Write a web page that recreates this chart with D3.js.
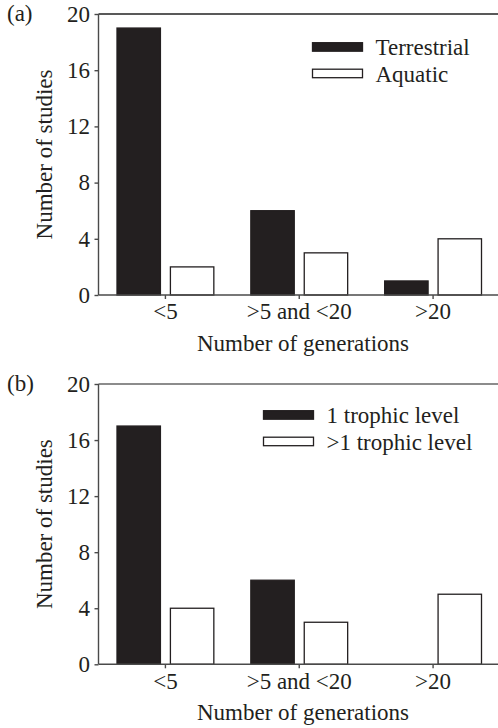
<!DOCTYPE html>
<html>
<head>
<meta charset="utf-8">
<script src="https://cdn.jsdelivr.net/npm/d3@7"></script>
<style>
  body { margin: 0; background: #fff; }
  svg text { font-family: "Palatino Linotype", Palatino, "Book Antiqua", "Liberation Serif", serif; fill: #231f20; }
</style>
</head>
<body>
<div id="chart"></div>
<script>
// data
var categories = ["<5", ">5 and <20", ">20"];
var terrestrial = [19, 6, 1];
var aquatic = [2, 3, 4];
var oneTrophic = [17, 6, 0];
var manyTrophic = [4, 3, 5];
var yTicks = [0, 4, 8, 12, 16, 20];

var svgWidth = 498;
var svgHeight = 728;
var ink = "#231f20";
var fontSize = 23;

var svg = d3.select("#chart")
  .append("svg")
  .attr("width", svgWidth)
  .attr("height", svgHeight);

// shared scales
var xScale = d3.scaleBand()
  .domain(categories)
  .range([98.5, 500]);

var seriesScale = d3.scaleBand()
  .domain([0, 1])
  .range([18.5, xScale.bandwidth() - 18.5])
  .paddingInner(0.187);

function drawPanel(opts) {
  var top = opts.top, bottom = opts.bottom;
  var yScale = d3.scaleLinear().domain([0, 20]).range([bottom, top]);
  var g = svg.append("g");

  // top frame line
  g.append("line")
    .attr("x1", xScale.range()[0]).attr("x2", svgWidth)
    .attr("y1", top).attr("y2", top)
    .attr("stroke", opts.topColor).attr("stroke-width", 1.4);

  // bars
  var series = [
    { values: opts.dark, fill: ink },
    { values: opts.light, fill: "#fff" }
  ];
  series.forEach(function(s, si) {
    g.selectAll(null)
      .data(categories.map(function(c, i) { return { cat: c, v: s.values[i] }; }).filter(function(d) { return d.v > 0; }))
      .enter()
      .append("rect")
      .attr("x", function(d) { return xScale(d.cat) + seriesScale(si); })
      .attr("width", seriesScale.bandwidth())
      .attr("y", function(d) { return yScale(d.v); })
      .attr("height", function(d) { return bottom - yScale(d.v); })
      .attr("fill", s.fill)
      .attr("stroke", ink)
      .attr("stroke-width", 1.3);
  });

  // axes
  var leftAxis = d3.axisLeft(yScale).tickValues(yTicks).tickSize(4).tickPadding(4.5);
  var bottomAxis = d3.axisBottom(xScale).tickSize(4).tickPadding(4);

  var ya = g.append("g")
    .attr("transform", "translate(" + xScale.range()[0] + ",0)")
    .call(leftAxis);
  var xa = g.append("g")
    .attr("transform", "translate(0," + bottom + ")")
    .call(bottomAxis);

  [ya, xa].forEach(function(a) {
    a.select(".domain").remove();
    a.selectAll("line").attr("stroke", "#4a4a4a").attr("stroke-width", 1.4);
    a.selectAll("text").attr("font-size", fontSize).attr("fill", ink)
      .style("font-family", "'Palatino Linotype', Palatino, 'Liberation Serif', serif");
  });

  // axis lines drawn by hand so they run to the page edge
  g.append("line")
    .attr("x1", xScale.range()[0]).attr("x2", svgWidth)
    .attr("y1", bottom).attr("y2", bottom)
    .attr("stroke", "#4a4a4a").attr("stroke-width", 1.6);
  g.append("line")
    .attr("x1", xScale.range()[0]).attr("x2", xScale.range()[0])
    .attr("y1", top).attr("y2", bottom)
    .attr("stroke", "#4a4a4a").attr("stroke-width", 1.4);

  // panel letter
  g.append("text")
    .attr("x", 7).attr("y", top + 7)
    .attr("font-size", fontSize)
    .text(opts.letter);

  // axis titles
  g.append("text")
    .attr("transform", "translate(52," + ((top + bottom) / 2) + ") rotate(-90)")
    .attr("text-anchor", "middle")
    .attr("font-size", fontSize)
    .text("Number of studies");

  g.append("text")
    .attr("x", 303).attr("y", bottom + 56)
    .attr("text-anchor", "middle")
    .attr("font-size", fontSize)
    .text("Number of generations");

  // legend
  var legend = g.append("g")
    .attr("transform", "translate(" + opts.legendX + "," + (top + opts.legendY) + ")");
  opts.names.forEach(function(name, i) {
    legend.append("rect")
      .attr("x", 0).attr("y", i * 26.5)
      .attr("width", 50).attr("height", 8.5)
      .attr("fill", i === 0 ? ink : "#fff")
      .attr("stroke", ink).attr("stroke-width", 1.3);
    legend.append("text")
      .attr("x", 63).attr("y", i * 26.5 + 12.5)
      .attr("font-size", fontSize)
      .text(name);
  });
}

drawPanel({
  letter: "(a)", top: 14, bottom: 295, topColor: "#222",
  dark: terrestrial, light: aquatic,
  names: ["Terrestrial", "Aquatic"],
  legendX: 312.5, legendY: 28.7
});

drawPanel({
  letter: "(b)", top: 384, bottom: 664.3, topColor: "#666",
  dark: oneTrophic, light: manyTrophic,
  names: ["1 trophic level", ">1 trophic level"],
  legendX: 263.5, legendY: 26.7
});
</script>
</body>
</html>
